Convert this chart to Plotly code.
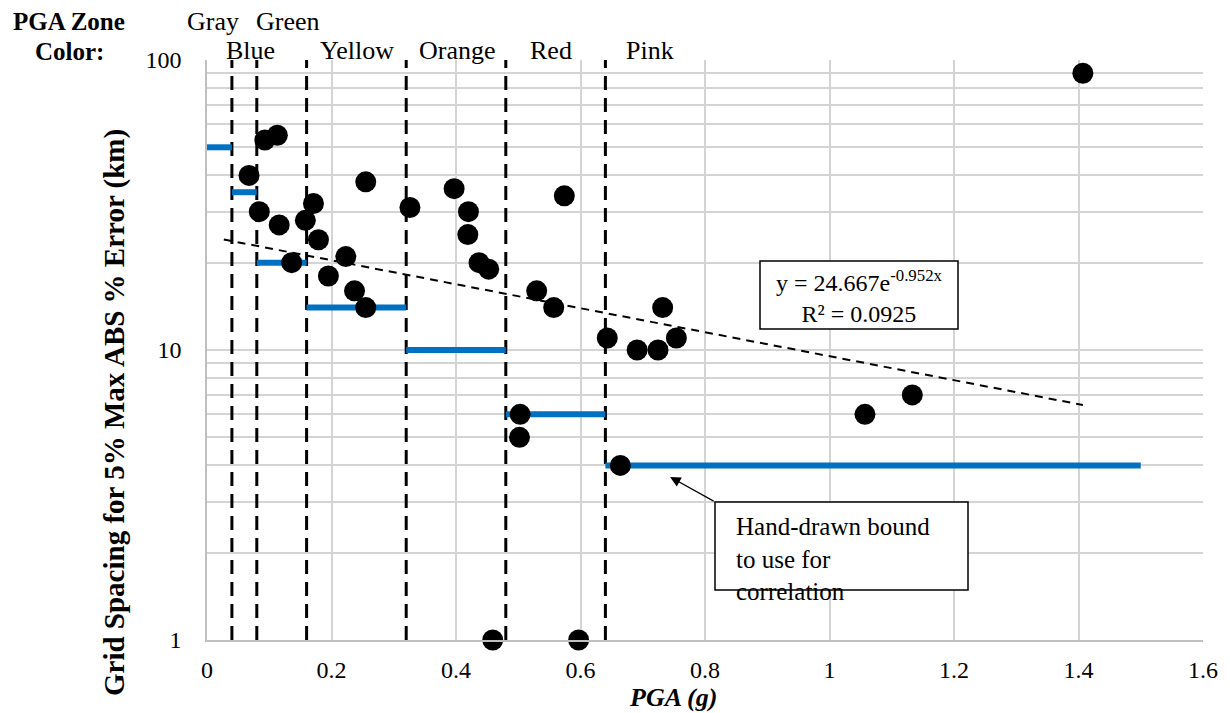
import numpy as np
import plotly.graph_objects as go

# ---------------- data ----------------
pga = [0.0675, 0.084, 0.093, 0.113, 0.116, 0.136, 0.158, 0.171, 0.179, 0.195,
       0.223, 0.237, 0.255, 0.255, 0.326, 0.397, 0.419, 0.420, 0.437, 0.4525,
       0.459, 0.502, 0.503, 0.5296, 0.557, 0.574, 0.597, 0.643, 0.664, 0.691,
       0.7245, 0.732, 0.754, 1.057, 1.133, 1.407]
spacing = [40, 30, 53, 55, 27, 20, 28, 32, 24, 18,
           21, 16, 38, 14, 31, 36, 25, 30, 20, 19,
           1, 5, 6, 16, 14, 34, 1, 11, 4, 10,
           10, 14, 11, 6, 7, 90]

zone_bounds = [0.04, 0.08, 0.16, 0.32, 0.48, 0.64]
bound_x0 = [0.0, 0.04, 0.08, 0.16, 0.32, 0.48, 0.64]
bound_x1 = [0.04, 0.08, 0.16, 0.32, 0.48, 0.64, 1.5]
bound_y = [50, 35, 20, 14, 10, 6, 4]

zone_names_top = ["Gray", "Green"]
zone_x_top = [0.0095, 0.130]
zone_names_bot = ["Blue", "Yellow", "Orange", "Red", "Pink"]
zone_x_bot = [0.070, 0.241, 0.402, 0.553, 0.711]

trend_a = 24.667
trend_b = -0.952
trend_x_range = [0.027, 1.407]

x_ticks = [0, 0.2, 0.4, 0.6, 0.8, 1.0, 1.2, 1.4, 1.6]
x_ticklabels = ["0", "0.2", "0.4", "0.6", "0.8", "1", "1.2", "1.4", "1.6"]
y_decades = [1, 10, 100]

FONT = "Liberation Serif, Times New Roman, serif"
BLUE = "#0070C0"
GRID = "#d4d4d4"

# ---------------- figure ----------------
fig = go.Figure()

# zone boundary dashed lines
for b in zone_bounds:
    fig.add_trace(go.Scatter(x=[b, b], y=[1, 100], mode="lines",
                             line=dict(color="black", width=3, dash="14px,8px"),
                             hoverinfo="skip", showlegend=False))

# hand-drawn bound segments
for x0, x1, yv in zip(bound_x0, bound_x1, bound_y):
    fig.add_trace(go.Scatter(x=[x0, x1], y=[yv, yv], mode="lines",
                             line=dict(color=BLUE, width=6),
                             hoverinfo="skip", showlegend=False))

# exponential trendline
tx = np.linspace(trend_x_range[0], trend_x_range[1], 100)
ty = trend_a * np.exp(trend_b * tx)
fig.add_trace(go.Scatter(x=tx, y=ty, mode="lines",
                         line=dict(color="black", width=2, dash="8px,6px"),
                         hoverinfo="skip", showlegend=False))

# data points
fig.add_trace(go.Scatter(x=pga, y=spacing, mode="markers",
                         marker=dict(color="black", size=21),
                         cliponaxis=False, showlegend=False))

# log grid values
minor_vals = []
for d in [1, 10]:
    for m in range(1, 10):
        minor_vals.append(d * m)
minor_vals.append(100)
minor_text = [str(v) if v in y_decades else "" for v in minor_vals]

fig.update_xaxes(range=[0, 1.6], tickvals=x_ticks, ticktext=x_ticklabels,
                 showgrid=True, gridcolor=GRID, gridwidth=1.5,
                 showline=True, linecolor="#bfbfbf", linewidth=1.5,
                 zeroline=False, ticks="", ticklabelstandoff=7,
                 tickfont=dict(family=FONT, size=24, color="black"))
fig.update_yaxes(type="log", range=[0, 2], tickvals=minor_vals, ticktext=minor_text,
                 showgrid=True, gridcolor=GRID, gridwidth=1.5,
                 showline=True, linecolor="#bfbfbf", linewidth=1.5,
                 zeroline=False, ticks="", ticklabelstandoff=19,
                 tickfont=dict(family=FONT, size=24, color="black"))

# page body has an 8px margin; compensate so the plot area lands where intended
OFF = 8
W, H = 1230 - OFF, 713 - OFF
L, R, T, B = 207 - OFF, 27, 60 - OFF, 73
PL, PT = 207, 60        # plot area in screen pixels
pw, ph = 996, 580


def px(x):
    return (x - PL) / pw


def py(y):
    return (PT + ph - y) / ph


def label(text, x, y, size, xref="paper", **kw):
    d = dict(text=text, x=x, y=y, xref=xref, yref="paper", showarrow=False,
             xanchor="center", yanchor="middle",
             font=dict(family=FONT, size=size, color="black"))
    d.update(kw)
    return d


annotations = []
annotations.append(label("<b>PGA Zone</b>", px(69), py(22), 25))
annotations.append(label("<b>Color:</b>", px(69), py(52), 25))
for name, xv in zip(zone_names_top, zone_x_top):
    annotations.append(label(name, xv, py(21), 26, xref="x"))
for name, xv in zip(zone_names_bot, zone_x_bot):
    annotations.append(label(name, xv, py(50), 26, xref="x"))

annotations.append(label("<b><i>PGA (g)</i></b>", px(673), py(697), 26))
annotations.append(label("<b>Grid Spacing for 5% Max ABS % Error (km)</b>", px(114), py(413), 29,
                         textangle=-90))

annotations.append(label("y = 24.667e<sup>-0.952x</sup><br>R² = 0.0925", px(859), py(296), 24))

annotations.append(label("Hand-drawn bound<br>to use for<br>correlation", px(734), py(559), 25,
                         xanchor="left", align="left"))
annotations.append(dict(text="", x=0.744, y=np.log10(3.65), xref="x", yref="y",
                        ax=45, ay=25, axref="pixel", ayref="pixel", showarrow=True,
                        arrowhead=2, arrowsize=1.6, arrowwidth=1.3, arrowcolor="black"))

shapes = [
    dict(type="rect", xref="paper", yref="paper", x0=px(760), x1=px(958), y0=py(329), y1=py(261),
         line=dict(color="black", width=1.5), fillcolor="white", layer="above"),
    dict(type="rect", xref="paper", yref="paper", x0=px(715), x1=px(968), y0=py(590), y1=py(502),
         line=dict(color="black", width=1.5), fillcolor="white", layer="above"),
]

fig.update_layout(width=W, height=H, margin=dict(l=L, r=R, t=T, b=B),
                  plot_bgcolor="white", paper_bgcolor="white",
                  annotations=annotations, shapes=shapes, showlegend=False,
                  font=dict(family=FONT, color="black"))

fig.write_html("out.html")
